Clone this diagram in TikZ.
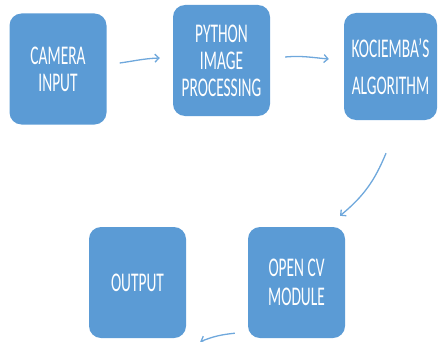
\documentclass[tikz,border=0pt]{standalone}
\usepackage{fontspec}
\setmainfont{Carlito}[FakeStretch=0.57]
\usetikzlibrary{arrows.meta,calc}
\definecolor{boxblue}{HTML}{5B9BD5}
\definecolor{arrblue}{HTML}{6FA8DC}
\tikzset{
  blk/.style={fill=boxblue, draw=none, rounded corners=12pt, minimum width=97pt, minimum height=111pt,
    text=white, align=center, inner sep=0pt, font=\fontsize{27}{27}\selectfont},
  arr/.style={draw=arrblue, line width=1.3pt, -{Straight Barb[length=4pt,width=8pt,line width=1.3pt]}}
}
\begin{document}
\begin{tikzpicture}[x=1pt,y=1pt]
\useasboundingbox (0,0) rectangle (438,341);
\clip (0,0) rectangle (438,341);
\node[blk] (cam) at (58,272) {CAMERA\\INPUT};
\node[blk] (py) at (221.5,280.5) {PYTHON\\IMAGE\\PROCESSING};
\node[blk, minimum width=93pt, minimum height=107pt, font=\fontsize{27}{37}\selectfont] (koc) at (390.5,274.5) {KOCIEMBA’S\\ALGORITHM};
\node[blk, font=\fontsize{27}{29}\selectfont] (ocv) at (296.5,58.5) {OPEN CV\\MODULE};
\node[blk] (out) at (137.5,58.5) {OUTPUT};
\draw[arr] ([shift={(13pt,6pt)}]cam.east) to[out=8,in=182] ([shift={(-13pt,2.5pt)}]py.west);
\draw[arr] ([shift={(15pt,3.5pt)}]py.east) to[out=5,in=175] ([shift={(-15pt,7.5pt)}]koc.west);
\draw[arr] ([shift={(-4.5pt,-33pt)}]koc.south) to[bend left=14] ([shift={(43.5pt,11pt)}]ocv.north);
\draw[arr] ([shift={(-13pt,5pt)}]ocv.south west) to[bend right=8] ([shift={(14pt,-3.5pt)}]out.south east);
\end{tikzpicture}
\end{document}
